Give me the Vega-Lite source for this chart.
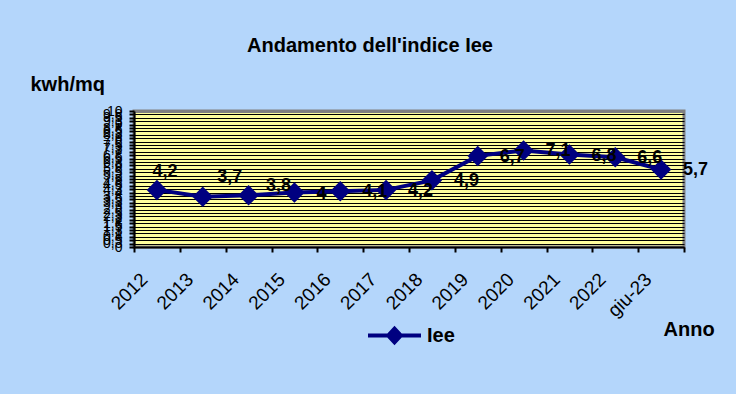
{
  "$schema": "https://vega.github.io/schema/vega-lite/v6.json",
  "autosize": {"type": "none"},
  "padding": {"left": 134, "top": 111, "right": 52, "bottom": 147},
  "width": 550,
  "height": 136,
  "background": "#b4d6fb",
  "title": {
    "text": "Andamento dell'indice Iee",
    "font": "Liberation Sans",
    "fontSize": 20,
    "fontWeight": "bold",
    "color": "black",
    "anchor": "middle",
    "dx": -39,
    "offset": 18
  },
  "data": {
    "values": [
      {"anno": "2012", "valore": 4.2, "serie": "Iee"},
      {"anno": "2013", "valore": 3.7, "serie": "Iee"},
      {"anno": "2014", "valore": 3.8, "serie": "Iee"},
      {"anno": "2015", "valore": 4.0, "serie": "Iee"},
      {"anno": "2016", "valore": 4.1, "serie": "Iee"},
      {"anno": "2017", "valore": 4.2, "serie": "Iee"},
      {"anno": "2018", "valore": 4.9, "serie": "Iee"},
      {"anno": "2019", "valore": 6.7, "serie": "Iee"},
      {"anno": "2020", "valore": 7.1, "serie": "Iee"},
      {"anno": "2021", "valore": 6.8, "serie": "Iee"},
      {"anno": "2022", "valore": 6.6, "serie": "Iee"},
      {"anno": "giu-23", "valore": 5.7, "serie": "Iee"}
    ]
  },
  "encoding": {
    "x": {
      "field": "anno",
      "type": "nominal",
      "sort": null,
      "scale": {"type": "band", "paddingInner": 0, "paddingOuter": 0},
      "axis": {
        "title": "Anno",
        "titleX": 529,
        "titleY": 88,
        "titleAlign": "left",
        "titleBaseline": "alphabetic",
        "titleFont": "Liberation Sans",
        "titleFontSize": 20,
        "titleFontWeight": "bold",
        "titleColor": "black",
        "tickBand": "extent",
        "tickSize": 5,
        "tickWidth": 2,
        "tickColor": "black",
        "domainColor": "black",
        "domainWidth": 2,
        "grid": false,
        "labelAngle": -45,
        "labelAlign": "right",
        "labelBaseline": "middle",
        "labelPadding": 24,
        "labelOffset": -13,
        "labelFont": "Liberation Sans",
        "labelFontSize": 19,
        "labelColor": "black"
      }
    },
    "y": {
      "field": "valore",
      "type": "quantitative",
      "scale": {"domain": [0, 10], "nice": false},
      "axis": {
        "values": [0, 0.25, 0.5, 0.75, 1, 1.25, 1.5, 1.75, 2, 2.25, 2.5, 2.75, 3, 3.25, 3.5, 3.75, 4, 4.25, 4.5, 4.75, 5, 5.25, 5.5, 5.75, 6, 6.25, 6.5, 6.75, 7, 7.25, 7.5, 7.75, 8, 8.25, 8.5, 8.75, 9, 9.25, 9.5, 9.75, 10],
        "format": ".1~f",
        "labelOverlap": false,
        "labelFlush": false,
        "labelBound": false,
        "labelFont": "Liberation Sans",
        "labelFontSize": 14,
        "labelColor": "black",
        "labelPadding": 7,
        "tickSize": 5,
        "tickWidth": 2,
        "tickColor": "black",
        "domainColor": "black",
        "domainWidth": 2,
        "grid": true,
        "gridOpacity": 1,
        "gridColor": {"condition": {"test": "datum.value >= 10", "value": "#808080"}, "value": "black"},
        "gridWidth": {"condition": {"test": "datum.value >= 10", "value": 3}, "value": 1.2},
        "title": "kwh/mq",
        "titleAngle": 0,
        "titleX": -104,
        "titleY": -21,
        "titleAlign": "left",
        "titleBaseline": "alphabetic",
        "titleFont": "Liberation Sans",
        "titleFontSize": 20,
        "titleFontWeight": "bold",
        "titleColor": "black"
      }
    }
  },
  "layer": [
    {
      "mark": {
        "type": "line",
        "color": "#000080",
        "strokeWidth": 4,
        "point": {"shape": "diamond", "size": 420, "filled": true, "color": "#000080", "opacity": 1}
      },
      "encoding": {
        "color": {
          "field": "serie",
          "type": "nominal",
          "scale": {"range": ["#000080"]},
          "legend": {
            "title": null,
            "orient": "none",
            "legendX": 232,
            "legendY": 196,
            "padding": 0,
            "symbolType": "M-1,0H1M-0.24,0L0,-0.26L0.24,0L0,0.26Z",
            "symbolSize": 2809,
            "symbolStrokeWidth": 4,
            "symbolStrokeColor": "#000080",
            "symbolFillColor": "#000080",
            "symbolOpacity": 1,
            "labelOffset": 4,
            "labelFont": "Liberation Sans",
            "labelFontSize": 20,
            "labelFontWeight": "bold",
            "labelColor": "black",
            "encode": {"symbols": {"update": {"fill": {"value": "#000080"}, "stroke": {"value": "#000080"}}}}
          }
        }
      }
    },
    {
      "transform": [{"filter": "datum.anno == '2012'"}],
      "mark": {"type": "text", "font": "Liberation Sans", "fontSize": 18, "fontWeight": "bold", "color": "black", "align": "center", "baseline": "middle", "dx": 8, "dy": -18},
      "encoding": {"text": {"field": "valore", "type": "quantitative", "format": ".1~f"}}
    },
    {
      "transform": [{"filter": "datum.anno == '2013'"}],
      "mark": {"type": "text", "font": "Liberation Sans", "fontSize": 18, "fontWeight": "bold", "color": "black", "align": "center", "baseline": "middle", "dx": 27, "dy": -20},
      "encoding": {"text": {"field": "valore", "type": "quantitative", "format": ".1~f"}}
    },
    {
      "transform": [{"filter": "datum.anno == '2014'"}],
      "mark": {"type": "text", "font": "Liberation Sans", "fontSize": 18, "fontWeight": "bold", "color": "black", "align": "center", "baseline": "middle", "dx": 30, "dy": -9},
      "encoding": {"text": {"field": "valore", "type": "quantitative", "format": ".1~f"}}
    },
    {
      "transform": [{"filter": "datum.anno != '2012' && datum.anno != '2013' && datum.anno != '2014'"}],
      "mark": {"type": "text", "font": "Liberation Sans", "fontSize": 18, "fontWeight": "bold", "color": "black", "align": "left", "baseline": "middle", "dx": 22, "dy": 1},
      "encoding": {"text": {"field": "valore", "type": "quantitative", "format": ".1~f"}}
    }
  ],
  "config": {
    "locale": {"number": {"decimal": ",", "thousands": ".", "grouping": [3], "currency": ["€", ""]}},
    "view": {"fill": "#ffff9c", "stroke": "#808080", "strokeWidth": 3}
  }
}
